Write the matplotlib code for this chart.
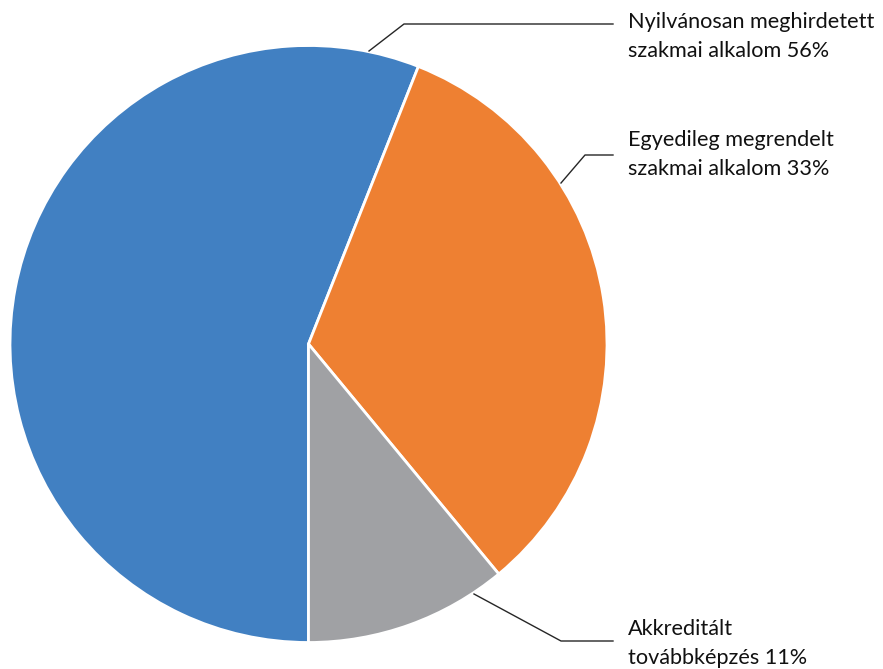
import matplotlib
matplotlib.use("Agg")
import matplotlib.pyplot as plt

categories = ["Nyilvánosan meghirdetett\nszakmai alkalom", "Egyedileg megrendelt\nszakmai alkalom", "Akkreditált\ntovábbképzés"]
values = [56, 33, 11]
colors = ["#4180C2", "#EE8032", "#A0A1A4"]

W, H = 883, 669
fig = plt.figure(figsize=(W / 100, H / 100), dpi=100)
ax = fig.add_axes([0, 0, 1, 1])

cx, cy, r = 308.5, H - 344, 298.5
ax.pie(values, colors=colors, startangle=270, counterclock=False,
       center=(cx, cy), radius=r,
       wedgeprops=dict(edgecolor="white", linewidth=2))
ax.set_xlim(0, W)
ax.set_ylim(0, H)
ax.set_aspect("equal")
ax.axis("off")

# leader lines (pixel coords, y down)
leaders = [
    [(369, 51), (404, 24), (613, 24)],
    [(561, 183), (585, 155), (613, 155)],
    [(474, 594), (561, 641), (613, 641)],
]
text_baselines = [28, 146, 635]
for cat, v, pts, by in zip(categories, values, leaders, text_baselines):
    xs = [p[0] for p in pts]
    ys = [H - p[1] for p in pts]
    ax.plot(xs, ys, color="#262626", linewidth=1)
    l1, l2 = cat.split("\n")
    ax.text(628, H - by, l1, fontsize=15.6, family="Lato", color="#111111", va="baseline", ha="left")
    ax.text(628, H - by - 29, f"{l2} {v}%", fontsize=15.6, family="Lato", color="#111111", va="baseline", ha="left")

fig.savefig("out.png", dpi=100)
